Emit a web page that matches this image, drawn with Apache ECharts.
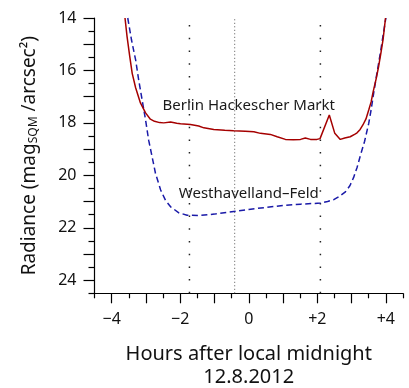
<!DOCTYPE html>
<html>
<head>
<meta charset="utf-8">
<script src="https://cdn.jsdelivr.net/npm/echarts@6/dist/echarts.min.js"></script>
<style>
  html, body { margin: 0; padding: 0; background: #fff; }
  #chart { width: 409px; height: 388px; }
</style>
</head>
<body>
<div id="chart"></div>
<script>
// Night-sky brightness (mag_SQM / arcsec²) against hours after local midnight, 12.8.2012
const berlinHours = [-3.61, -3.55, -3.47, -3.40, -3.30, -3.16, -3.01, -2.87, -2.75, -2.60, -2.48, -2.28, -2.10, -1.99, -1.70, -1.46, -1.31, -1.02, -0.70, -0.44, -0.10, 0.15, 0.34, 0.63, 0.83, 1.07, 1.30, 1.51, 1.65, 1.80, 1.99, 2.08, 2.35, 2.51, 2.67, 2.80, 2.96, 3.10, 3.16, 3.25, 3.33, 3.42, 3.50, 3.57, 3.63, 3.72, 3.79, 3.86, 3.92, 3.99];
const berlinMag   = [14.00, 14.71, 15.48, 16.11, 16.66, 17.24, 17.62, 17.86, 17.94, 17.99, 18.00, 17.97, 18.01, 18.03, 18.06, 18.12, 18.19, 18.25, 18.28, 18.30, 18.32, 18.34, 18.40, 18.44, 18.53, 18.63, 18.64, 18.63, 18.58, 18.63, 18.63, 18.60, 17.70, 18.40, 18.63, 18.58, 18.53, 18.43, 18.38, 18.25, 18.08, 17.85, 17.51, 17.20, 16.81, 16.30, 15.84, 15.30, 14.81, 14.00];

const westHours = [-3.53, -3.42, -3.30, -3.21, -3.11, -3.01, -2.92, -2.82, -2.72, -2.57, -2.43, -2.28, -2.04, -1.80, -1.41, -1.00, -0.44, 0.00, 0.54, 1.00, 1.51, 2.09, 2.30, 2.48, 2.65, 2.82, 2.95, 3.06, 3.16, 3.26, 3.38, 3.50, 3.57, 3.64, 3.74, 3.84, 3.92, 4.00];
const westMag   = [14.00, 14.84, 15.60, 16.37, 17.13, 17.89, 18.66, 19.29, 19.93, 20.56, 20.95, 21.20, 21.43, 21.52, 21.53, 21.48, 21.38, 21.30, 21.22, 21.15, 21.10, 21.06, 21.00, 20.93, 20.80, 20.63, 20.40, 20.08, 19.70, 19.23, 18.70, 18.02, 17.50, 16.90, 16.10, 15.33, 14.65, 14.00];

// Reference times marked with dotted verticals
const markerHours = [-1.73, -0.41, 2.09];

const siteNames = ['Berlin Hackescher Markt', 'Westhavelland–Feld'];

const xTickValues = [-4, -2, 0, 2, 4];
const xTickLabels = ['−4', '−2', '0', '+2', '+4'];
const yTickValues = [14, 16, 18, 20, 22, 24];
const yTickLabels = ['14', '16', '18', '20', '22', '24'];

const X_MIN = -4.5, X_MAX = 4.5;
const Y_MIN = 14, Y_MAX = 24.5;

const FONT = '"Noto Sans", sans-serif';
const INK = '#111';

function range(a, b, step) {
  const out = [];
  for (let v = a; v <= b + 1e-9; v += step) out.push(Math.round(v * 100) / 100);
  return out;
}
function lookup(values, labels, v) {
  const i = values.findIndex(t => Math.abs(t - v) < 1e-6);
  return i < 0 ? '' : labels[i];
}
const zip = (xs, ys) => xs.map((x, i) => [x, ys[i]]);

const axisLineStyle = { color: '#000', width: 1.2 };

const markerSeries = markerHours.map((h, i) => ({
  type: 'line',
  silent: true,
  symbol: 'none',
  z: 1,
  data: [[h, Y_MAX], [h, Y_MIN]],
  lineStyle: i === 1
    ? { color: '#555', width: 1, type: [1, 2.5] }
    : { color: '#222', width: 1.5, type: [1.5, 11.2] }
}));

const chart = echarts.init(document.getElementById('chart'), null, { renderer: 'canvas' });
chart.setOption({
  animation: false,
  backgroundColor: '#fff',
  textStyle: { fontFamily: FONT },
  grid: { left: 94.5, right: 6, top: 18, bottom: 94.7, containLabel: false, outerBoundsMode: 'none' },
  xAxis: [
    {
      type: 'value', min: X_MIN, max: X_MAX, position: 'bottom',
      axisLine: { onZero: false, lineStyle: axisLineStyle },
      axisTick: { customValues: range(-4, 4, 1), length: 10, lineStyle: axisLineStyle },
      axisLabel: {
        customValues: xTickValues,
        formatter: v => lookup(xTickValues, xTickLabels, v),
        margin: 18, fontSize: 16, color: INK, fontFamily: FONT
      },
      splitLine: { show: false },
      name: 'Hours after local midnight\n12.8.2012',
      nameLocation: 'middle', nameGap: 49,
      nameTextStyle: { fontSize: 20, lineHeight: 23.5, color: INK, fontFamily: FONT }
    },
    {
      type: 'value', min: X_MIN, max: X_MAX, position: 'bottom',
      axisLine: { show: false, onZero: false },
      axisTick: { customValues: range(-4.5, 4.5, 1), length: 5, lineStyle: axisLineStyle },
      axisLabel: { show: false },
      splitLine: { show: false }
    }
  ],
  yAxis: [
    {
      type: 'value', min: Y_MIN, max: Y_MAX, inverse: true, position: 'left',
      axisLine: { onZero: false, lineStyle: axisLineStyle },
      axisTick: { customValues: range(14, 24, 1), length: 11, lineStyle: axisLineStyle },
      axisLabel: {
        customValues: yTickValues,
        formatter: v => lookup(yTickValues, yTickLabels, v),
        margin: 18, fontSize: 16, color: INK, fontFamily: FONT
      },
      splitLine: { show: false },
      name: 'Radiance (mag{sub|SQM} /arcsec²)',
      nameLocation: 'middle', nameGap: 55, nameRotate: 90,
      nameTextStyle: {
        fontSize: 19, color: INK, fontFamily: FONT,
        rich: { sub: { fontSize: 12, color: INK, fontFamily: FONT, verticalAlign: 'bottom', padding: [6, 0, 0, 0] } }
      }
    },
    {
      type: 'value', min: Y_MIN, max: Y_MAX, inverse: true, position: 'left',
      axisLine: { show: false, onZero: false },
      axisTick: { customValues: range(14.5, 24.5, 1), length: 6, lineStyle: axisLineStyle },
      axisLabel: { show: false },
      splitLine: { show: false }
    }
  ],
  series: [
    ...markerSeries,
    {
      name: siteNames[1],
      type: 'line',
      symbol: 'none',
      z: 3,
      data: zip(westHours, westMag),
      lineStyle: { color: '#1a1aa8', width: 1.5, type: [6, 3.5] },
      markPoint: {
        silent: true, symbol: 'circle', symbolSize: 0,
        data: [{ coord: [0, 20.7] }],
        label: { show: true, position: 'inside', formatter: siteNames[1], fontSize: 15, color: '#1a1a1a', fontFamily: FONT }
      }
    },
    {
      name: siteNames[0],
      type: 'line',
      symbol: 'none',
      z: 4,
      data: zip(berlinHours, berlinMag),
      lineStyle: { color: '#a50000', width: 1.5 },
      markPoint: {
        silent: true, symbol: 'circle', symbolSize: 0,
        data: [{ coord: [0, 17.36] }],
        label: { show: true, position: 'inside', formatter: siteNames[0], fontSize: 15, color: '#1a1a1a', fontFamily: FONT }
      }
    }
  ]
});
</script>
</body>
</html>
